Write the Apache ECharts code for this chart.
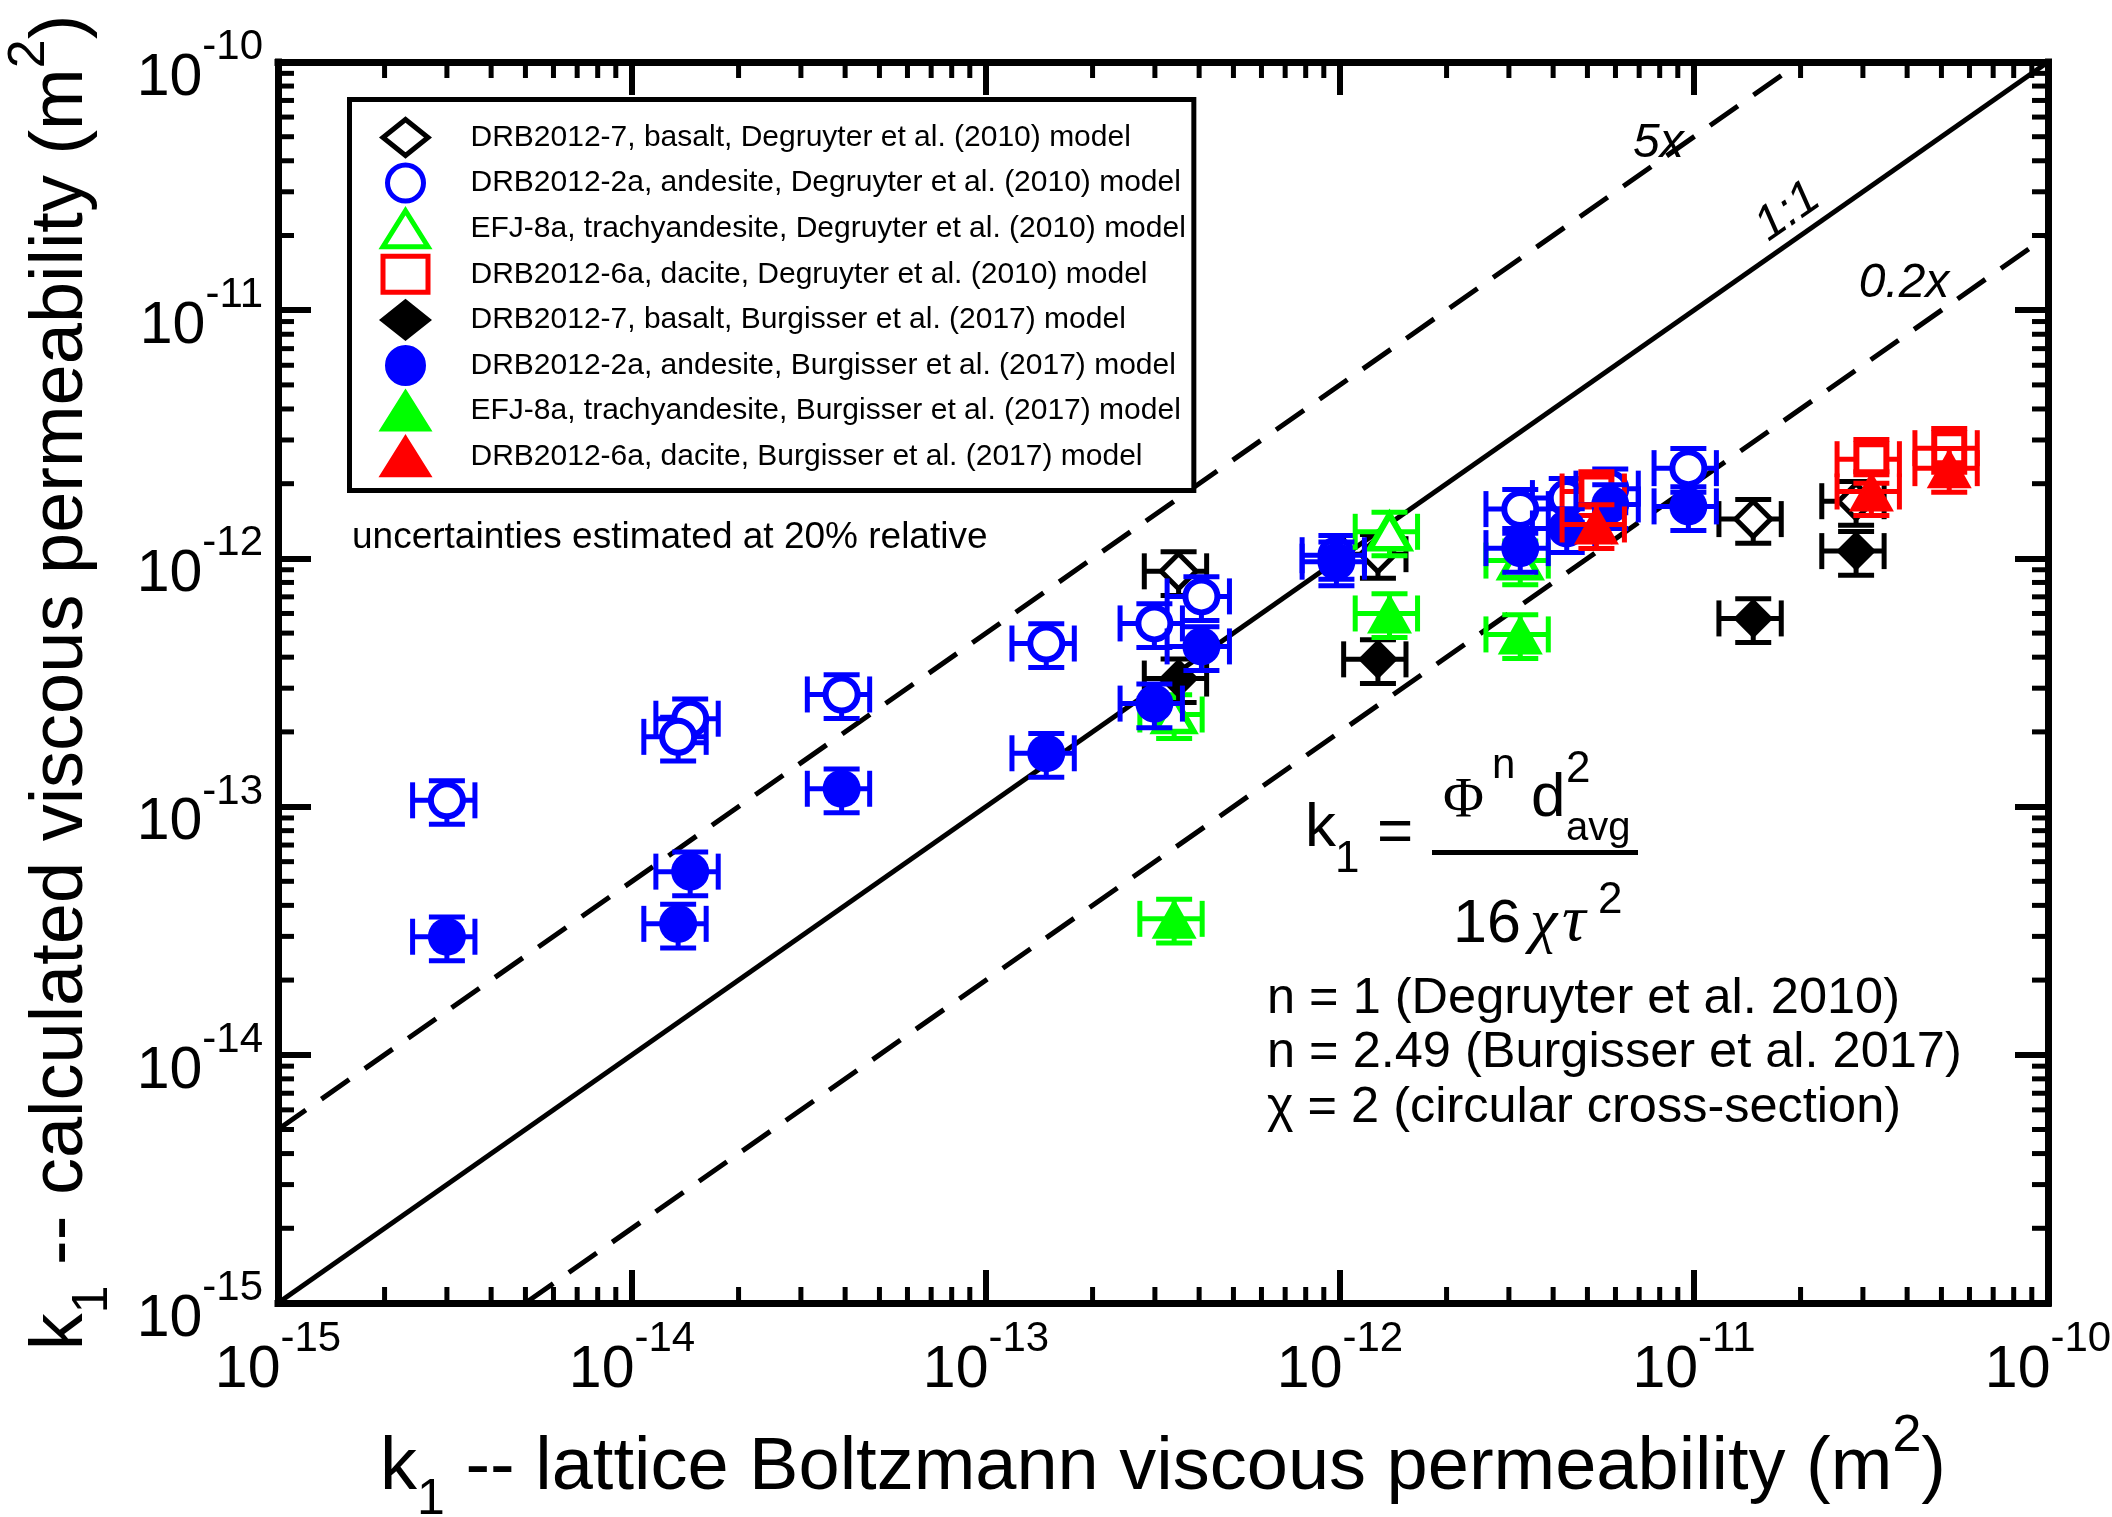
<!DOCTYPE html>
<html>
<head>
<meta charset="utf-8">
<script src="https://cdn.jsdelivr.net/npm/echarts@6/dist/echarts.min.js"></script>
<style>
  html, body { margin: 0; padding: 0; background: #fff; }
  #chart { width: 2112px; height: 1517px; }
</style>
</head>
<body>
<div id="chart"></div>
<script>
// Viscous permeability k1 (m^2): lattice-Boltzmann value (x) against the
// Kozeny-Carman-type estimates of Degruyter (2010) and Burgisser (2017) (y).

// DRB2012-7, basalt
const basaltLB        = [3.5e-13, 1.28e-12, 1.47e-11, 2.87e-11];
const basaltDegruyter = [8.87e-13, 1.04e-12, 1.44e-12, 1.70e-12];
const basaltBurgisser = [3.28e-13, 3.92e-13, 5.73e-13, 1.07e-12];

// DRB2012-2a, andesite
const andesiteLB        = [3.0e-15, 1.46e-14, 1.35e-14, 3.91e-14, 1.48e-13, 2.99e-13, 4.06e-13, 9.77e-13, 3.23e-12, 4.37e-12, 5.8e-12, 9.64e-12];
const andesiteDegruyter = [1.06e-13, 2.26e-13, 1.91e-13, 2.83e-13, 4.54e-13, 5.47e-13, 7.03e-13, 1.03e-12, 1.58e-12, 1.75e-12, 1.91e-12, 2.31e-12];
const andesiteBurgisser = [2.99e-14, 5.47e-14, 3.37e-14, 1.18e-13, 1.64e-13, 2.60e-13, 4.42e-13, 9.7e-13, 1.10e-12, 1.32e-12, 1.65e-12, 1.62e-12];

// EFJ-8a, trachyandesite
const trachyLB        = [3.4e-13, 1.38e-12, 3.23e-12];
const trachyDegruyter = [2.35e-13, 1.28e-12, 9.8e-13];
const trachyBurgisser = [3.53e-14, 6.0e-13, 4.94e-13];

// DRB2012-6a, dacite
const daciteLB        = [5.3e-12, 3.17e-11, 5.26e-11];
const daciteDegruyter = [1.86e-12, 2.51e-12, 2.78e-12];
const daciteBurgisser = [1.37e-12, 1.86e-12, 2.31e-12];

// Reference lines: 1:1, 5x and 0.2x
const lineOneToOne = [[1e-15, 1e-15], [1e-10, 1e-10]];
const lineFiveX    = [[1e-15, 5e-15], [2e-11, 1e-10]];
const lineFifthX   = [[5e-15, 1e-15], [1e-10, 2e-11]];

// Relative uncertainty on both coordinates
const REL_UNC = 0.2;

// Axis range and minor tick positions (2..9 in every decade)
const AXIS_MIN = 1e-15, AXIS_MAX = 1e-10;
const DECADE_STARTS = [1e-15, 1e-14, 1e-13, 1e-12, 1e-11];
const MINOR_STEPS = [2, 3, 4, 5, 6, 7, 8, 9];

const LEGEND_NAMES = [
  'DRB2012-7, basalt, Degruyter et al. (2010) model',
  'DRB2012-2a, andesite, Degruyter et al. (2010) model',
  'EFJ-8a, trachyandesite, Degruyter et al. (2010) model',
  'DRB2012-6a, dacite, Degruyter et al. (2010) model',
  'DRB2012-7, basalt, Burgisser et al. (2017) model',
  'DRB2012-2a, andesite, Burgisser et al. (2017) model',
  'EFJ-8a, trachyandesite, Burgisser et al. (2017) model',
  'DRB2012-6a, dacite, Burgisser et al. (2017) model'
];

const FONT = '"Liberation Sans", Arial, Helvetica, sans-serif';
const SERIF = '"Liberation Serif", "Times New Roman", serif';

const BLACK = '#000000', BLUE = '#0000ff', GREEN = '#00ff00', RED = '#ff0000';

const groups = [
  { name: LEGEND_NAMES[0], xs: basaltLB,   ys: basaltDegruyter,   symbol: 'diamond',  open: true,  color: BLACK, size: 35,       border: 5 },
  { name: LEGEND_NAMES[1], xs: andesiteLB, ys: andesiteDegruyter, symbol: 'circle',   open: true,  color: BLUE,  size: 32,       border: 6 },
  { name: LEGEND_NAMES[2], xs: trachyLB,   ys: trachyDegruyter,   symbol: 'triangle', open: true,  color: GREEN, size: [39, 34], border: 6 },
  { name: LEGEND_NAMES[3], xs: daciteLB,   ys: daciteDegruyter,   symbol: 'rect',     open: true,  color: RED,   size: 30,       border: 6 },
  { name: LEGEND_NAMES[4], xs: basaltLB,   ys: basaltBurgisser,   symbol: 'diamond',  open: false, color: BLACK, size: 40 },
  { name: LEGEND_NAMES[5], xs: andesiteLB, ys: andesiteBurgisser, symbol: 'circle',   open: false, color: BLUE,  size: 38 },
  { name: LEGEND_NAMES[6], xs: trachyLB,   ys: trachyBurgisser,   symbol: 'triangle', open: false, color: GREEN, size: [45, 40] },
  { name: LEGEND_NAMES[7], xs: daciteLB,   ys: daciteBurgisser,   symbol: 'triangle', open: false, color: RED,   size: [45, 40] }
];

const ERR_WIDTH = 5, CAP_LEN = 36;
const MAJOR_LEN = 33, MINOR_LEN = 16;

function pairs(xs, ys) { return xs.map((x, i) => [x, ys[i]]); }

function errorBarSeries(color, data, z) {
  return {
    type: 'custom', data, z, silent: true, animation: false,
    encode: { x: 0, y: 1 },
    renderItem(params, api) {
      const x = api.value(0), y = api.value(1);
      const L = api.coord([x * (1 - REL_UNC), y]), R = api.coord([x * (1 + REL_UNC), y]);
      const B = api.coord([x, y * (1 - REL_UNC)]), T = api.coord([x, y * (1 + REL_UNC)]);
      const h = CAP_LEN / 2;
      const style = { stroke: color, lineWidth: ERR_WIDTH, fill: null };
      const seg = (x1, y1, x2, y2) => ({ type: 'line', shape: { x1, y1, x2, y2 }, style });
      return {
        type: 'group',
        children: [
          seg(L[0], L[1], R[0], R[1]),
          seg(B[0], B[1], T[0], T[1]),
          seg(L[0], L[1] - h, L[0], L[1] + h),
          seg(R[0], R[1] - h, R[0], R[1] + h),
          seg(B[0] - h, B[1], B[0] + h, B[1]),
          seg(T[0] - h, T[1], T[0] + h, T[1])
        ]
      };
    }
  };
}

function markerSeries(g, z) {
  return {
    type: 'scatter', name: g.name, data: pairs(g.xs, g.ys), z,
    symbol: g.symbol, symbolSize: g.size, silent: true, animation: false,
    itemStyle: g.open
      ? { color: '#ffffff', borderColor: g.color, borderWidth: g.border, opacity: 1 }
      : { color: g.color, borderWidth: 0, opacity: 1 },
    emphasis: { disabled: true }
  };
}

const minorTickValues = DECADE_STARTS.flatMap(d => MINOR_STEPS.map(m => m * d));

const minorTickSeries = {
  type: 'custom', data: minorTickValues.map(v => [v, v]), z: 1, silent: true, clip: false, animation: false,
  encode: { x: 0, y: 1 },
  renderItem(params, api) {
    const v = api.value(0);
    const cs = params.coordSys;
    const px = api.coord([v, AXIS_MIN])[0];
    const py = api.coord([AXIS_MIN, v])[1];
    const left = cs.x, right = cs.x + cs.width, top = cs.y, bottom = cs.y + cs.height;
    const style = { stroke: '#000', lineWidth: 5 };
    const seg = (x1, y1, x2, y2) => ({ type: 'line', shape: { x1, y1, x2, y2 }, style });
    return {
      type: 'group',
      children: [
        seg(px, bottom, px, bottom - MINOR_LEN),
        seg(px, top, px, top + MINOR_LEN),
        seg(left, py, left + MINOR_LEN, py),
        seg(right, py, right - MINOR_LEN, py)
      ]
    };
  }
};

function refLine(data, dashed) {
  return {
    type: 'line', data, z: 2, symbol: 'none', silent: true, animation: false,
    lineStyle: { color: '#000', width: 5, type: dashed ? [34, 19] : 'solid' }
  };
}

const tickRich = {
  b: { fontSize: 59, fontFamily: FONT, color: '#000', lineHeight: 70, height: 36.8, verticalAlign: 'bottom' },
  e: { fontSize: 42, fontFamily: FONT, color: '#000', lineHeight: 70, height: 40.8, verticalAlign: 'top' }
};
const tickFormatter = v => '{b|10}{e|' + Math.round(Math.log10(v)) + '}';

const nameRich = {
  m: { fontSize: 74, fontFamily: FONT, color: '#000', lineHeight: 94, verticalAlign: 'middle' },
  s: { fontSize: 50, fontFamily: FONT, color: '#000', lineHeight: 94, height: 31.4, verticalAlign: 'bottom' },
  p: { fontSize: 52, fontFamily: FONT, color: '#000', lineHeight: 94, height: 29.2, verticalAlign: 'top' }
};

function logAxis(extra) {
  return Object.assign({
    type: 'log', logBase: 10, min: AXIS_MIN, max: AXIS_MAX,
    axisLine: { show: true, onZero: false, lineStyle: { color: '#000', width: 7, cap: 'square' } },
    axisTick: { show: true, inside: true, length: MAJOR_LEN, lineStyle: { color: '#000', width: 6 } },
    minorTick: { show: false },
    splitLine: { show: false },
    axisLabel: { show: false }
  }, extra);
}

const series = [
  minorTickSeries,
  refLine(lineOneToOne, false),
  refLine(lineFiveX, true),
  refLine(lineFifthX, true)
];
groups.forEach((g, i) => {
  series.push(errorBarSeries(g.color, pairs(g.xs, g.ys), 10 + 2 * i));
  series.push(markerSeries(g, 11 + 2 * i));
});

const legendData = groups.map(g => ({
  name: g.name,
  icon: g.symbol,
  itemStyle: g.open
    ? { color: '#ffffff', borderColor: g.color, borderWidth: 5 }
    : { color: g.color, borderColor: g.color, borderWidth: 5 }
}));

function txt(x, y, text, size, opts) {
  return {
    type: 'text', x, y, silent: true, z: 50,
    rotation: (opts && opts.rotation) || 0,
    style: Object.assign({
      text, fontSize: size, fontFamily: FONT, fill: '#000',
      align: 'left', verticalAlign: 'middle'
    }, opts && opts.style)
  };
}

const option = {
  animation: false,
  backgroundColor: '#ffffff',
  grid: { left: 278, right: 64, top: 62, bottom: 214, containLabel: false, outerBoundsMode: 'none' },
  xAxis: [
    logAxis({
      position: 'bottom',
      axisLabel: { show: true, margin: 16, formatter: tickFormatter, rich: tickRich },
      name: '{m|k}{s|1}{m| -- lattice Boltzmann viscous permeability (m}{p|2}{m|)}',
      nameLocation: 'middle', nameGap: 119,
      nameTextStyle: { rich: nameRich }
    }),
    logAxis({ position: 'top' })
  ],
  yAxis: [
    logAxis({
      position: 'left',
      axisLabel: { show: true, margin: 15, formatter: tickFormatter, rich: tickRich },
      name: '{m|k}{s|1}{m| -- calculated viscous permeability (m}{p|2}{m|)}',
      nameLocation: 'middle', nameGap: 169,
      nameTextStyle: { rich: nameRich }
    }),
    logAxis({ position: 'right' })
  ],
  legend: {
    orient: 'vertical', left: 349.5, top: 99.5,
    data: legendData,
    itemWidth: 45, itemHeight: 36, itemGap: 4.6,
    padding: [17.5, 8, 13.3, 31],
    borderColor: '#000', borderWidth: 5, backgroundColor: '#fff',
    selectedMode: false,
    textStyle: { fontSize: 30, fontFamily: FONT, color: '#000', lineHeight: 36, padding: [0, 0, 0, 37.5] }
  },
  graphic: [
    txt(1633, 144, '5x', 48, { style: { fontStyle: 'italic' } }),
    txt(1788, 212, '1:1', 48, { rotation: 35 * Math.PI / 180, style: { fontStyle: 'italic', align: 'center' } }),
    txt(1904, 284, '0.2x', 48, { style: { fontStyle: 'italic', align: 'center' } }),
    txt(352, 538, 'uncertainties estimated at 20% relative', 37),
    // k1 = Phi^n d_avg^2 / (16 chi tau^2)
    txt(1305, 829, 'k', 62),
    txt(1335, 860, '1', 44),
    txt(1377, 834, '=', 62),
    txt(1443, 802, 'Φ', 56, { style: { fontFamily: SERIF } }),
    txt(1492, 766, 'n', 42),
    txt(1531, 799, 'd', 62),
    txt(1566, 770, '2', 44),
    txt(1566, 829, 'avg', 40),
    { type: 'line', silent: true, z: 50, shape: { x1: 1432, y1: 852.5, x2: 1638, y2: 852.5 }, style: { stroke: '#000', lineWidth: 5 } },
    txt(1453, 925, '16', 61),
    txt(1530, 925, 'χ', 62, { style: { fontFamily: SERIF, fontStyle: 'italic' } }),
    txt(1562, 923, 'τ', 66, { style: { fontFamily: SERIF, fontStyle: 'italic' } }),
    txt(1598, 901, '2', 44),
    txt(1267, 999, 'n = 1 (Degruyter et al. 2010)', 50.5),
    txt(1267, 1053, 'n = 2.49 (Burgisser et al. 2017)', 50.5),
    txt(1267, 1108, 'χ = 2 (circular cross-section)', 50.5)
  ],
  series
};

const chart = echarts.init(document.getElementById('chart'), null, { renderer: 'canvas', width: 2112, height: 1517 });
chart.setOption(option);
</script>
</body>
</html>
